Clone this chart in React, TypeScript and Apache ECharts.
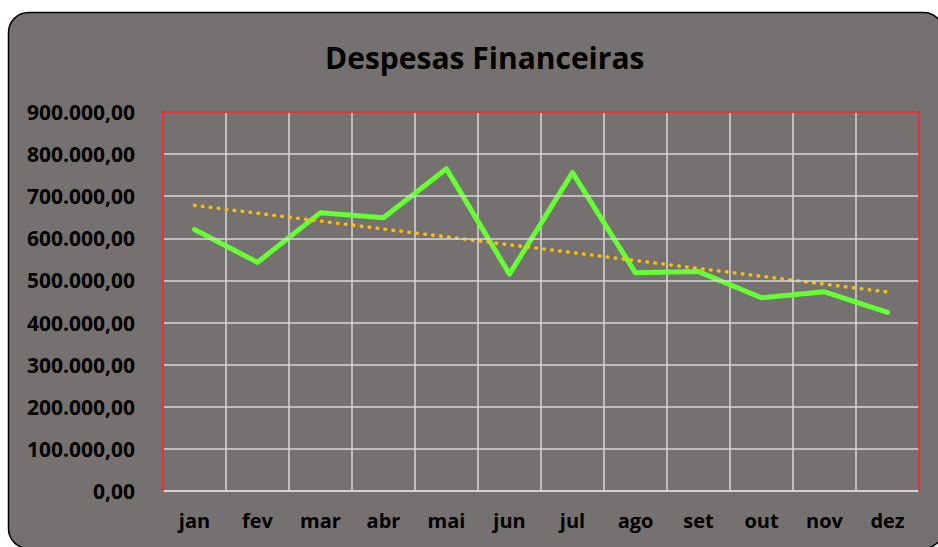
import React, { useEffect, useRef } from "react";
import * as echarts from "echarts";

const title = "Despesas Financeiras";
const months = ["jan", "fev", "mar", "abr", "mai", "jun", "jul", "ago", "set", "out", "nov", "dez"];
const despesas = [621000, 543000, 661000, 649000, 765000, 515000, 756000, 518000, 521000, 459000, 473000, 424000];
const yTicks = { min: 0, max: 900000, interval: 100000 };

function linearTrend(values: number[]): number[] {
  const n = values.length;
  const xs = values.map((_, i) => i + 1);
  const mx = xs.reduce((a, b) => a + b, 0) / n;
  const my = values.reduce((a, b) => a + b, 0) / n;
  let sxy = 0;
  let sxx = 0;
  for (let i = 0; i < n; i++) {
    sxy += (xs[i] - mx) * (values[i] - my);
    sxx += (xs[i] - mx) * (xs[i] - mx);
  }
  const slope = sxy / sxx;
  return xs.map((x) => my + slope * (x - mx));
}

function fmtBR(v: number): string {
  const int = Math.round(v).toString().replace(/\B(?=(\d{3})+(?!\d))/g, ".");
  return int + ",00";
}

const FONT = "'Open Sans', 'Liberation Sans', sans-serif";
const RED = { color: "#ff0000", width: 1.5 };

export default function App() {
  const ref = useRef<HTMLDivElement>(null);
  useEffect(() => {
    if (!ref.current) return;
    const chart = echarts.init(ref.current, undefined, { renderer: "svg" });
    chart.setOption({
      animation: false,
      backgroundColor: "#ffffff",
      graphic: [
        {
          type: "rect",
          z: -10,
          silent: true,
          shape: { x: 8.5, y: 12.5, width: 935, height: 536, r: 20 },
          style: { fill: "#767171", stroke: "#000000", lineWidth: 1.5 },
        },
      ],
      title: {
        text: title,
        left: 320,
        top: 37,
        textStyle: { fontFamily: FONT, fontWeight: "bold", fontSize: 30, color: "#000000" },
      },
      grid: {
        left: 163,
        top: 112,
        right: 19,
        bottom: 56,
        show: false,
      },
      xAxis: [
        {
          type: "category",
          data: months,
          boundaryGap: true,
          axisLine: { show: true, lineStyle: { color: "#D9D9D9", width: 1.5 } },
          axisTick: { show: false },
          splitLine: { show: true, interval: 0, lineStyle: { color: "#D9D9D9", width: 1.5 } },
          axisLabel: {
            interval: 0,
            margin: 19,
            fontFamily: FONT,
            fontWeight: "bold",
            fontSize: 20,
            color: "#000000",
          },
        },
        {
          type: "category",
          data: months,
          position: "top",
          z: 5,
          axisLine: { show: true, onZero: false, lineStyle: RED },
          axisTick: { show: false },
          axisLabel: { show: false },
          splitLine: { show: false },
        },
      ],
      yAxis: [
        {
          type: "value",
          min: yTicks.min,
          max: yTicks.max,
          interval: yTicks.interval,
          z: 5,
          axisLine: { show: true, lineStyle: RED },
          axisTick: { show: false },
          splitLine: { show: true, lineStyle: { color: "#D9D9D9", width: 1.5 } },
          axisLabel: {
            margin: 28,
            fontFamily: FONT,
            fontWeight: "bold",
            fontSize: 21,
            color: "#000000",
            formatter: (v: number) => fmtBR(v),
          },
        },
        {
          type: "value",
          min: yTicks.min,
          max: yTicks.max,
          interval: yTicks.interval,
          position: "right",
          z: 5,
          axisLine: { show: true, onZero: false, lineStyle: RED },
          axisTick: { show: false },
          axisLabel: { show: false },
          splitLine: { show: false },
        },
      ],
      series: [
        {
          name: "Despesas",
          type: "line",
          data: despesas,
          symbol: "none",
          lineStyle: { color: "#66FF33", width: 5, cap: "round", join: "round" },
          z: 3,
        },
        {
          name: "Tendência",
          type: "line",
          data: linearTrend(despesas),
          symbol: "none",
          lineStyle: { color: "#FFC000", width: 3.5, type: [0.5, 7.5], cap: "round" },
          z: 4,
        },
      ],
    });
    return () => chart.dispose();
  }, []);
  return (
    <div
      ref={ref}
      style={{ position: "fixed", left: 0, top: 0, width: 938, height: 547 }}
    />
  );
}
